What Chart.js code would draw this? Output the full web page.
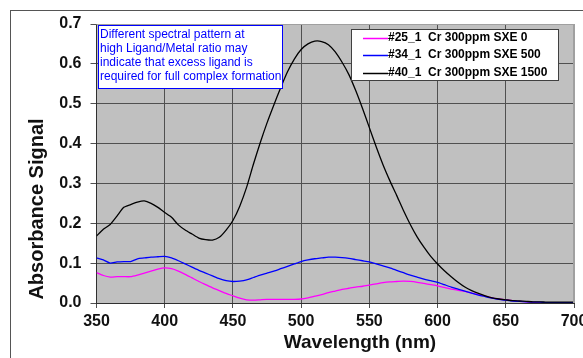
<!DOCTYPE html>
<html>
<head>
<meta charset="utf-8">
<script src="https://cdn.jsdelivr.net/npm/chart.js@4.4.1/dist/chart.umd.min.js"></script>
<style>
  html, body { margin: 0; padding: 0; background: #fff; }
  #wrap { width: 583px; height: 358px; }
</style>
</head>
<body>
<div id="wrap"><canvas id="spectra" width="583" height="358"></canvas></div>
<script>
// wavelength grid (nm), 5 nm steps
const wavelengths = [
  350,355,360,365,370,375,380,385,390,395,400,405,410,415,420,425,430,435,440,445,
  450,455,460,465,470,475,480,485,490,495,500,505,510,515,520,525,530,535,540,545,
  550,555,560,565,570,575,580,585,590,595,600,605,610,615,620,625,630,635,640,645,
  650,655,660,665,670,675,680,685,690,695,700
];

const seriesNames = [
  "#25_1  Cr 300ppm SXE 0",
  "#34_1  Cr 300ppm SXE 500",
  "#40_1  Cr 300ppm SXE 1500"
];
const seriesColors = ["#ff00ff", "#0000ff", "#000000"];

const sxe0 = [
  0.076,0.069,0.065,0.066,0.066,0.066,0.070,0.075,0.080,0.085,0.088,0.086,0.080,0.072,0.063,0.054,0.046,0.038,0.031,0.024,
  0.018,0.012,0.008,0.007,0.008,0.009,0.009,0.009,0.009,0.009,0.010,0.013,0.017,0.021,0.026,0.030,0.034,0.037,0.040,0.042,
  0.045,0.048,0.051,0.053,0.054,0.055,0.054,0.052,0.049,0.046,0.043,0.039,0.035,0.032,0.029,0.025,0.021,0.017,0.013,0.010,
  0.008,0.006,0.004,0.003,0.002,0.001,0.001,0.000,0.000,0.000,0.000
];
const sxe500 = [
  0.113,0.108,0.100,0.103,0.104,0.104,0.111,0.113,0.115,0.116,0.117,0.113,0.106,0.098,0.090,0.082,0.075,0.068,0.061,0.056,
  0.054,0.055,0.058,0.064,0.070,0.075,0.080,0.086,0.092,0.098,0.104,0.108,0.111,0.113,0.115,0.115,0.114,0.112,0.109,0.106,
  0.103,0.098,0.093,0.088,0.082,0.076,0.070,0.065,0.060,0.056,0.052,0.046,0.040,0.035,0.030,0.025,0.020,0.016,0.012,0.009,
  0.007,0.005,0.004,0.003,0.002,0.002,0.001,0.001,0.001,0.001,0.001
];
const sxe1500 = [
  0.168,0.185,0.197,0.218,0.240,0.247,0.253,0.256,0.250,0.240,0.227,0.215,0.196,0.183,0.173,0.163,0.159,0.158,0.165,0.183,
  0.207,0.243,0.290,0.348,0.402,0.452,0.497,0.540,0.580,0.612,0.636,0.650,0.657,0.656,0.648,0.630,0.604,0.573,0.533,0.488,
  0.440,0.392,0.347,0.307,0.270,0.232,0.197,0.166,0.140,0.117,0.098,0.081,0.066,0.052,0.040,0.031,0.024,0.018,0.013,0.010,
  0.008,0.006,0.005,0.004,0.003,0.003,0.002,0.002,0.002,0.002,0.002
];

const noteLines = [
  "Different spectral pattern at",
  "high Ligand/Metal ratio may",
  "indicate that excess ligand is",
  "required for full complex formation"
];

const xTitle = "Wavelength (nm)";
const yTitle = "Absorbance Signal";

const FONT = "'Liberation Sans', Arial, sans-serif";

const toPoints = (ys) => ys.map((y, i) => ({ x: wavelengths[i], y: y }));

// grey plot area, outer frame
const backdrop = {
  id: "backdrop",
  beforeDraw(chart) {
    const { ctx, chartArea: a } = chart;
    ctx.save();
    ctx.fillStyle = "#fff";
    ctx.fillRect(0, 0, chart.width, chart.height);
    ctx.strokeStyle = "#555";
    ctx.lineWidth = 1;
    ctx.strokeRect(10.5, 10.5, 700, 500);
    ctx.fillStyle = "#c0c0c0";
    ctx.fillRect(a.left, a.top, a.right - a.left, a.bottom - a.top);
    ctx.restore();
  },
  afterDatasetsDraw(chart) {
    const { ctx, chartArea: a } = chart;
    ctx.save();
    ctx.strokeStyle = "#a0a0a0";
    ctx.lineWidth = 1;
    ctx.beginPath();
    ctx.moveTo(a.left, a.top + 0.5);
    ctx.lineTo(a.right - 0.5, a.top + 0.5);
    ctx.lineTo(a.right - 0.5, a.bottom);
    ctx.stroke();
    ctx.restore();
  }
};

// axis titles, text box and legend box
const boxes = {
  id: "boxes",
  afterDraw(chart) {
    const { ctx } = chart;
    ctx.save();
    // axis titles (placed off-centre like the original)
    ctx.fillStyle = "#111";
    ctx.textAlign = "center";
    ctx.textBaseline = "middle";
    ctx.font = "bold 19px " + FONT;
    ctx.fillText(xTitle, 360, 343);
    ctx.save();
    ctx.translate(37, 209);
    ctx.rotate(-Math.PI / 2);
    ctx.font = "bold 20px " + FONT;
    ctx.fillText(yTitle, 0, 0);
    ctx.restore();
    ctx.textAlign = "left";
    // note
    ctx.fillStyle = "#fff";
    ctx.fillRect(98, 25, 185, 64);
    ctx.strokeStyle = "#0000ff";
    ctx.lineWidth = 1;
    ctx.strokeRect(98.5, 25.5, 184, 63);
    ctx.fillStyle = "#0000ff";
    ctx.font = "12px " + FONT;
    noteLines.forEach((t, i) => ctx.fillText(t, 100, 34.5 + i * 13.9));
    // legend
    ctx.fillStyle = "#fff";
    ctx.fillRect(351, 29, 208, 52);
    ctx.strokeStyle = "#404040";
    ctx.strokeRect(351.5, 29.5, 207, 51);
    ctx.font = "bold 12px " + FONT;
    seriesNames.forEach((name, i) => {
      const y = 37.5 + i * 17.6;
      ctx.strokeStyle = seriesColors[i];
      ctx.lineWidth = 1.5;
      ctx.beginPath();
      ctx.moveTo(363, Math.round(y) + 0.5);
      ctx.lineTo(388, Math.round(y) + 0.5);
      ctx.stroke();
      ctx.fillStyle = "#000";
      ctx.fillText(name, 388, y);
    });
    ctx.restore();
  }
};

const ctx = document.getElementById("spectra");

new Chart(ctx, {
  type: "line",
  data: {
    datasets: [
      { label: seriesNames[0], data: toPoints(sxe0), borderColor: seriesColors[0], order: 3 },
      { label: seriesNames[1], data: toPoints(sxe500), borderColor: seriesColors[1], order: 2 },
      { label: seriesNames[2], data: toPoints(sxe1500), borderColor: seriesColors[2], order: 1 }
    ]
  },
  options: {
    responsive: false,
    animation: false,
    devicePixelRatio: 1,
    layout: { padding: { top: 24, right: 9, left: 0, bottom: 0 } },
    elements: {
      line: { borderWidth: 1.3, tension: 0.2, fill: false },
      point: { radius: 0 }
    },
    plugins: {
      legend: { display: false },
      tooltip: { enabled: false }
    },
    scales: {
      x: {
        type: "linear",
        min: 350,
        max: 700,
        ticks: {
          stepSize: 50,
          color: "#111",
          padding: 4,
          maxRotation: 0,
          font: { family: FONT, size: 16, weight: "bold" }
        },
        grid: {
          color: (c) => (c.tick && c.tick.value === 700 ? "#a0a0a0" : "#505050"),
          tickLength: 5,
          tickColor: "#505050"
        },
        border: { color: "#303030" },
        afterFit(scale) {
          scale.height = 55;
          scale.paddingLeft = 0;
          scale.paddingRight = 0;
        }
      },
      y: {
        min: 0,
        max: 0.7,
        ticks: {
          stepSize: 0.1,
          color: "#111",
          padding: 9,
          callback: (v) => v.toFixed(1),
          font: { family: FONT, size: 16, weight: "bold" }
        },
        grid: {
          color: (c) => (c.tick && c.tick.value >= 0.69 ? "#a0a0a0" : "#505050"),
          tickLength: 6,
          tickColor: "#505050"
        },
        border: { color: "#303030" },
        afterFit(scale) {
          scale.width = 96.5;
          scale.paddingTop = 0;
          scale.paddingBottom = 0;
        }
      }
    }
  },
  plugins: [backdrop, boxes]
});
</script>
</body>
</html>
